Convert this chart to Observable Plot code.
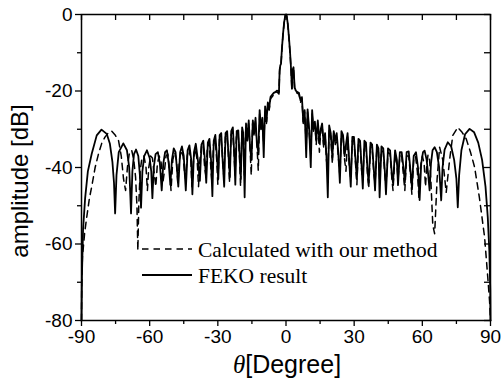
<!DOCTYPE html>
<html><head><meta charset="utf-8">
<script src="https://cdn.jsdelivr.net/npm/d3@7"></script>
<script src="https://cdn.jsdelivr.net/npm/@observablehq/plot@0.6"></script>
<style>body{margin:0;background:#fff} svg{display:block}</style>
</head><body><div id="chart"></div>
<script>
// FEKO result (solid)
const thetaFeko = [-90,-89.8,-89.3,-88.4,-87.2,-85.5,-83.3,-81.2,-78.9,-77.5,-76.4,-75.7,-75.2,-74.6,-73.6,-71.6,-70.0,-69.0,-68.2,-67.6,-66.9,-66.0,-65.0,-64.3,-63.8,-63.2,-62.4,-61.2,-60.0,-59.3,-58.8,-58.2,-57.4,-56.4,-55.5,-54.7,-54.0,-53.2,-52.4,-51.6,-50.9,-50.2,-49.4,-48.6,-47.9,-47.4,-46.6,-45.8,-45.0,-44.5,-44.1,-43.3,-42.5,-41.7,-41.2,-40.5,-39.7,-39.0,-38.4,-37.9,-37.2,-36.4,-35.7,-35.1,-34.4,-33.7,-33.0,-32.4,-31.8,-31.1,-30.4,-29.8,-29.2,-28.5,-27.8,-27.2,-26.6,-25.9,-25.3,-24.7,-24.1,-23.4,-22.8,-22.3,-21.7,-21.0,-20.4,-19.9,-19.3,-18.8,-18.2,-17.6,-17.0,-16.4,-15.8,-15.2,-14.6,-14.0,-13.4,-12.8,-12.2,-11.6,-11.0,-10.4,-9.8,-9.2,-8.6,-8.0,-7.4,-6.8,-6.1,-5.4,-4.7,-4.0,-3.5,-3.1,-2.8,-2.5,-2.2,-1.8,-1.3,-0.8,-0.3,0,0.3,0.8,1.3,1.8,2.2,2.6,2.9,3.3,3.8,4.3,5.0,5.7,6.4,7.0,7.6,8.2,8.9,9.5,10.2,10.9,11.5,12.1,12.7,13.3,14.0,14.7,15.3,15.9,16.6,17.2,17.8,18.4,19.0,19.7,20.4,21.0,21.7,22.3,23.0,23.7,24.4,25.1,25.8,26.4,27.1,27.8,28.5,29.2,29.9,30.6,31.2,31.9,32.6,33.3,33.8,34.5,35.2,35.9,36.4,37.2,37.9,38.7,39.2,40.0,40.7,41.2,42.0,42.8,43.5,44.0,44.9,45.8,46.6,47.1,48.0,48.8,49.3,50.1,50.9,51.7,52.3,53.1,54.0,54.8,55.4,56.2,57.2,58.1,58.8,59.5,60.3,61.0,61.9,62.6,63.2,63.8,64.5,65.4,66.4,67.4,68.3,68.9,69.8,71.2,72.7,74.0,75.0,75.6,76.2,77.2,78.8,80.8,82.8,84.6,86.3,87.8,88.8,89.5,89.9,90];
const dbFeko = [-80,-68,-56,-48,-41,-36.4,-31.6,-30.1,-31.2,-33.8,-38.5,-44,-52,-42,-36,-33.7,-35.5,-40,-52,-41,-36.5,-35.3,-37,-42,-50.5,-41,-37,-35.5,-37.5,-41,-48,-40,-36.5,-36,-39,-46,-39,-36,-35.5,-39,-44.5,-38,-35,-36,-41,-45,-36,-34.5,-37,-42,-46,-35.5,-34.2,-38,-47,-36,-33.8,-37,-40,-43.5,-34,-33,-38,-44,-33.5,-32.5,-38,-47.5,-33,-31.5,-37,-43,-31.5,-31,-39,-45,-31,-30.5,-37,-42.5,-30.5,-29.5,-36,-44.5,-30.5,-30.3,-37,-43,-29.5,-31,-47.8,-28.5,-33,-27.7,-35,-38,-27.7,-31,-27,-34,-36,-25,-30,-27,-37.3,-24,-28,-23,-24.5,-21.5,-21,-20.5,-20.3,-19.9,-20,-20.3,-14.5,-13.3,-12.9,-9,-5,-2,-0.2,0,-0.3,-2.5,-6,-10,-14,-19.4,-14.5,-13.8,-19,-19.9,-20.3,-20.5,-22.5,-21.6,-28,-25,-37.3,-24.8,-30,-39.9,-25,-30,-28,-33,-27.7,-33,-30,-28.5,-34,-31,-37,-47.8,-29,-31,-37.4,-30.5,-33,-31,-36,-44,-30.5,-31.5,-37,-34,-31,-38,-45,-32,-32,-38,-43,-32.5,-33,-40,-45.5,-33,-33.5,-41,-44,-33.5,-34,-41,-46,-34,-35,-47.8,-34.5,-35,-41,-47,-35,-35.5,-42,-44,-35.5,-38,-44.6,-36,-36,-40,-44,-36,-35.8,-41,-45,-37,-36,-40,-48.5,-39,-36,-35.6,-38,-42,-46,-39,-35.5,-34.7,-36,-40,-48.6,-40,-35.3,-33.4,-34.5,-38,-43,-50.4,-42,-35.5,-31.3,-29.9,-30.8,-33.5,-38,-45,-53,-62,-72,-80];

// Calculated with our method (dashed)
const thetaCalc = [-90,-89.9,-89.6,-88.6,-87.7,-86.5,-85.5,-84.0,-82.5,-81.0,-79.6,-78.0,-76.7,-75.2,-73.7,-72.5,-71.5,-70.6,-69.8,-69.0,-67.9,-67.0,-66.2,-65.6,-65.2,-64.8,-64.2,-63.4,-62.5,-61.6,-61.0,-60.4,-59.6,-58.8,-57.9,-57.3,-56.6,-55.8,-55.0,-54.2,-53.5,-52.8,-52.0,-51.2,-50.6,-49.8,-49.0,-48.2,-47.6,-46.9,-46.1,-45.3,-44.7,-44.2,-43.5,-42.7,-41.9,-41.4,-40.7,-39.9,-39.1,-38.5,-37.9,-37.2,-36.5,-35.8,-35.3,-34.6,-33.9,-33.2,-32.6,-31.9,-31.2,-30.5,-30.0,-29.3,-28.6,-27.9,-27.4,-26.7,-26.0,-25.4,-24.9,-24.2,-23.5,-22.9,-22.4,-21.8,-21.1,-20.5,-20.0,-19.4,-18.8,-18.3,-17.7,-17.1,-16.5,-15.9,-15.3,-14.7,-14.1,-13.5,-12.9,-12.2,-11.6,-11.0,-10.4,-9.8,-9.2,-8.6,-8.0,-7.4,-6.8,-6.1,-5.4,-4.7,-4.0,-3.5,-3.1,-2.8,-2.5,-2.2,-1.8,-1.3,-0.8,-0.3,0,0.3,0.8,1.3,1.8,2.2,2.6,2.9,3.3,3.8,4.3,5.0,5.7,6.4,7.0,7.6,8.2,8.9,9.5,10.2,10.9,11.5,12.1,12.7,13.3,14.0,14.7,15.3,15.9,16.6,17.2,17.8,18.4,19.0,19.7,20.4,21.0,21.7,22.3,23.0,23.7,24.4,25.1,25.8,26.4,27.1,27.8,28.5,29.2,29.9,30.6,31.2,31.9,32.6,33.3,33.8,34.5,35.2,35.9,36.4,37.2,37.9,38.7,39.2,40.0,40.7,41.2,42.0,42.8,43.5,44.0,44.9,45.8,46.6,47.1,48.0,48.8,49.3,50.1,50.9,51.7,52.3,53.1,54.0,54.8,55.4,56.2,57.0,57.8,58.5,59.2,60.0,60.8,61.4,62.0,62.5,63.2,63.8,64.6,65.4,65.6,66.5,67.6,69.0,70.5,72.0,73.4,75.6,77.5,79.3,81.2,83.0,85.1,87.4,88.8,89.6,90];
const dbCalc = [-80,-70,-63.5,-57,-53,-48,-45,-40,-36.4,-33.5,-32,-30.8,-30.5,-31.5,-33,-37,-43,-46,-40,-36.5,-35.5,-38,-42.5,-50,-61.7,-50,-41,-37.5,-37,-40,-46,-40,-37,-37.5,-42,-45,-39,-37,-38.5,-44,-41,-37,-36.5,-41,-46,-38,-36,-38,-44.5,-38,-35.5,-37,-41,-43,-37,-35,-38,-45,-38,-35,-38,-45,-38,-34.5,-34,-40,-42,-34.5,-33.5,-39,-44,-34,-32.5,-38,-44.5,-32.5,-32,-38,-42,-32,-31.5,-36,-44,-31.5,-30.5,-36,-42,-31,-31,-37,-45,-30.5,-32,-42,-29.5,-33,-28.5,-34,-42,-28.5,-31.5,-28,-33,-40.8,-26,-30,-27.5,-34,-25,-28.5,-23.5,-25,-22,-21.5,-21,-20.5,-20.3,-20.5,-20.8,-14.8,-13.5,-13.1,-9.2,-5.2,-2.1,-0.3,0,-0.4,-2.6,-6.2,-10.2,-14.2,-19.8,-14.8,-14,-19.5,-20.3,-20.6,-20.8,-23,-22,-28.5,-25.5,-34,-25.5,-31,-36,-26,-30.5,-28.5,-34,-28.5,-36,-30.5,-29,-35,-31.5,-38,-41,-30,-32,-39,-31,-34,-32,-37,-42,-31.5,-32,-38,-41,-32,-39,-43,-33,-33,-39,-44.5,-33.5,-34,-41,-43,-34,-34.5,-42,-45.5,-34.5,-35,-42,-44,-35,-36,-43,-35.5,-36,-42,-45,-36,-36.5,-43,-46,-36.5,-39,-43,-37,-37,-42,-46,-37,-37,-42,-47,-38,-37,-41,-47.8,-40,-37,-39,-45,-39,-36.7,-38,-44,-55,-57.3,-55,-43,-34.7,-38,-46.5,-38,-31.6,-29.5,-30.8,-32.5,-36,-39.9,-47.8,-58.2,-68.7,-75,-80];

const xMajorTicks = [-90, -60, -30, 0, 30, 60, 90];
const xMinorTicks = [-75, -45, -15, 15, 45, 75];
const yMajorTicks = [0, -20, -40, -60, -80];
const yMinorTicks = [-10, -30, -50, -70];
const seriesNames = ["Calculated with our method", "FEKO result"];
const yTitle = "amplitude [dB]";
const xTitleSymbol = "θ";
const xTitleRest = "[Degree]";

const feko = thetaFeko.map((t, i) => ({theta: t, db: dbFeko[i]}));
const calc = thetaCalc.map((t, i) => ({theta: t, db: dbCalc[i]}));

const W = 503, H = 379, mL = 81, mR = 13, mT = 14, mB = 59;
const fw = W - mL - mR, fh = H - mT - mB;

const chart = Plot.plot({
  width: W, height: H,
  marginLeft: mL, marginRight: mR, marginTop: mT, marginBottom: mB,
  style: {fontFamily: "'Liberation Sans', Arial, sans-serif", fontSize: "19px", background: "white", color: "black"},
  x: {domain: [-90, 90]},
  y: {domain: [-80, 0]},
  marks: [
    Plot.line(calc, {x: "theta", y: "db", stroke: "black", strokeWidth: 1.5, strokeDasharray: "6.5,5"}),
    Plot.line(feko, {x: "theta", y: "db", stroke: "black", strokeWidth: 1.8}),
    Plot.frame({stroke: "black", strokeWidth: 1.5}),
    Plot.axisX(xMajorTicks, {anchor: "bottom", tickSize: 6, tickPadding: 3, label: null, tickFormat: d => String(d), strokeWidth: 1.3}),
    Plot.axisX(xMinorTicks, {anchor: "bottom", tickSize: 4, fill: "none", label: null, strokeWidth: 1.3}),
    Plot.axisY(yMajorTicks, {anchor: "left", tickSize: 6, tickPadding: 3, label: null, tickFormat: d => String(d), strokeWidth: 1.3}),
    Plot.axisY(yMinorTicks, {anchor: "left", tickSize: 4, fill: "none", label: null, strokeWidth: 1.3}),
    Plot.tickX(xMajorTicks.concat(xMinorTicks), {x: d => d, insetBottom: fh - 6, stroke: "black", strokeWidth: 1.3}),
    Plot.tickY(yMajorTicks.concat(yMinorTicks), {y: d => d, insetLeft: fw - 6, stroke: "black", strokeWidth: 1.3})
  ]
});

const svg = d3.select(chart);
// y title
svg.append("text")
  .attr("transform", "translate(28,181) rotate(-90)")
  .attr("text-anchor", "middle")
  .attr("font-family", "'Liberation Sans', Arial, sans-serif")
  .attr("font-size", 24)
  .attr("fill", "black")
  .text(yTitle);
// x title
const xt = svg.append("text")
  .attr("x", 287).attr("y", 373)
  .attr("text-anchor", "middle")
  .attr("font-size", 25)
  .attr("fill", "black");
xt.append("tspan").attr("font-family", "'Liberation Serif', 'Times New Roman', serif").attr("font-style", "italic").text(xTitleSymbol);
xt.append("tspan").attr("font-family", "'Liberation Sans', Arial, sans-serif").text(xTitleRest);

// legend
const lg = svg.append("g").attr("text-anchor", "start");
const rows = [{y: 249, dash: "6.5,5", w: 1.5}, {y: 275, dash: null, w: 1.8}];
rows.forEach((r, i) => {
  const ln = lg.append("line").attr("x1", 142).attr("x2", 192).attr("y1", r.y).attr("y2", r.y)
    .attr("stroke", "black").attr("stroke-width", r.w);
  if (r.dash) ln.attr("stroke-dasharray", r.dash);
  lg.append("text").attr("x", 198).attr("y", r.y + 8)
    .attr("text-anchor", "start")
    .attr("font-family", "'Liberation Serif', 'Times New Roman', serif")
    .attr("font-size", 21.5).attr("fill", "black")
    .text(seriesNames[i]);
});

document.getElementById("chart").appendChild(chart);
</script>
</body></html>
